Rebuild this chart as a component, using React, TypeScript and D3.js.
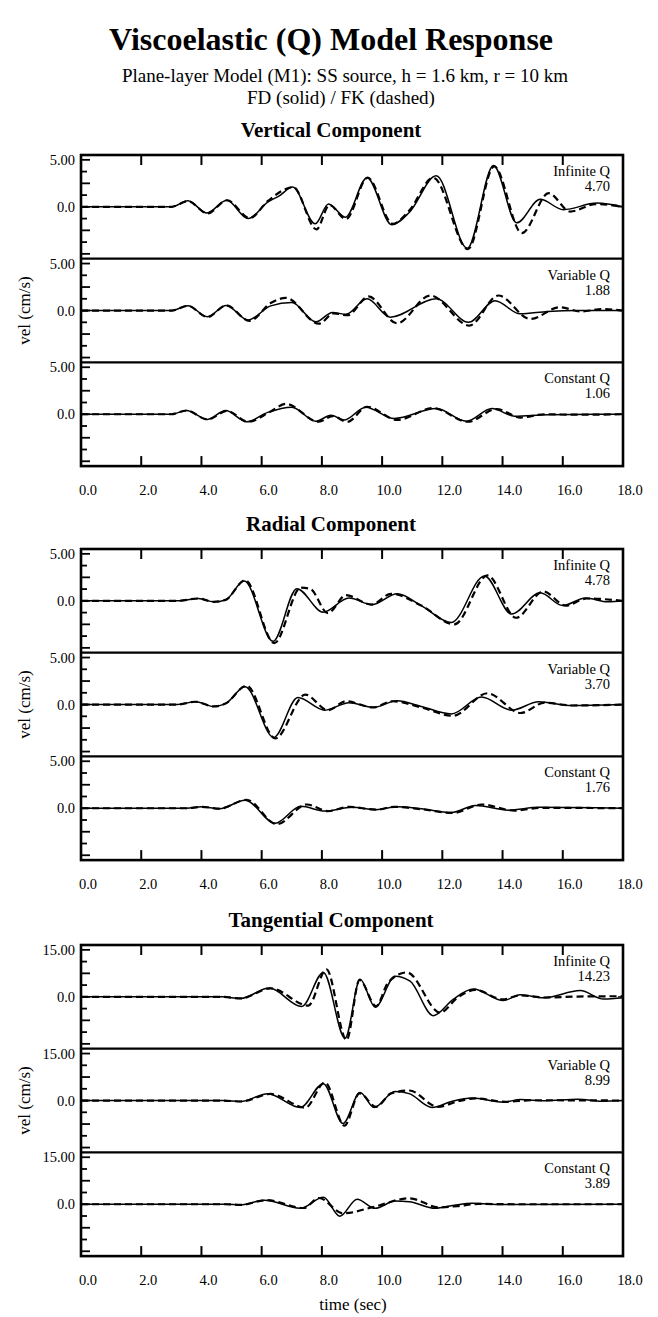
import React from "react";
import * as d3 from "d3";

// ---- labels ----
const COMPONENTS = ["Vertical Component", "Radial Component", "Tangential Component"];
const Q_MODELS = ["Infinite Q", "Variable Q", "Constant Q"];
const PEAKS = [
  ["4.70", "1.88", "1.06"],
  ["4.78", "3.70", "1.76"],
  ["14.23", "8.99", "3.89"],
];
const AMP = [5, 5, 15];
const AMP_LABEL = ["5.00", "5.00", "15.00"];
const X_TICKS = [0, 2, 4, 6, 8, 10, 12, 14, 16, 18];

// ---- traces [time (s), vel (cm/s)] : FD solid / FK dashed ----
const vertInfFD = [[0,0],[3.0,0],[3.55,0.65],[4.18,-0.65],[4.84,0.7],[5.55,-1.25],[6.2,0.5],[6.6,1.2],[7.03,2.1],[7.78,-1.8],[8.22,0.3],[8.78,-1.1],[9.5,3.1],[10.32,-1.9],[10.9,-0.6],[11.8,3.3],[12.83,-4.4],[13.7,4.4],[14.47,-1.7],[15.25,0.8],[16.02,-0.3],[17.13,0.4],[18,0]];
const vertInfFK = [[0,0],[3.0,0],[3.55,0.6],[4.2,-0.7],[4.85,0.7],[5.6,-1.2],[6.2,0.6],[6.8,1.9],[7.05,2.1],[7.82,-2.4],[8.25,0.2],[8.8,-1.3],[9.52,3.1],[10.35,-1.8],[10.9,-0.4],[11.7,3.1],[12.85,-4.5],[13.72,4.3],[14.64,-2.8],[15.53,1.45],[16.25,-0.5],[17.1,0.3],[18,0]];
const vertVarFD = [[0,0],[3.0,0],[3.55,0.5],[4.2,-0.65],[4.82,0.55],[5.55,-1.0],[6.3,0.5],[7.0,0.85],[7.8,-1.2],[8.35,-0.2],[8.8,-0.4],[9.5,1.25],[10.27,-0.7],[11.8,1.25],[12.87,-1.25],[13.75,1.05],[14.58,-0.35],[15.5,-0.1],[16.5,0],[18,0]];
const vertVarFK = [[0,0],[3.0,0],[3.55,0.5],[4.2,-0.7],[4.82,0.55],[5.6,-1.1],[6.3,0.8],[6.8,1.35],[7.9,-1.4],[8.4,-0.3],[8.85,-0.5],[9.55,1.5],[10.49,-1.35],[11.6,1.6],[12.9,-1.6],[13.86,1.6],[14.92,-0.9],[15.9,0.35],[16.6,-0.1],[17.3,0.15],[18,0]];
const vertConFD = [[0,0],[3.0,0],[3.5,0.4],[4.2,-0.55],[4.8,0.4],[5.5,-0.8],[6.2,0.2],[7.0,0.75],[7.8,-0.75],[8.3,-0.1],[8.75,-0.6],[9.45,0.75],[10.4,-0.45],[11.8,0.6],[12.8,-0.75],[13.65,0.6],[14.4,-0.2],[15.5,-0.05],[18,0]];
const vertConFK = [[0,0],[3.0,0],[3.5,0.4],[4.2,-0.55],[4.85,0.35],[5.55,-0.8],[6.3,0.3],[6.8,1.1],[7.9,-0.8],[8.35,-0.2],[8.85,-0.8],[9.5,0.8],[10.5,-0.6],[11.7,0.65],[12.85,-0.8],[13.8,0.55],[14.6,-0.35],[15.4,0],[16.5,-0.05],[18,0]];

const radInfFD = [[0,0],[3.2,0],[3.9,0.25],[4.4,-0.1],[4.8,0.1],[5.42,2.1],[6.38,-4.3],[7.17,1.3],[8.04,-1.2],[8.9,0.3],[9.67,-0.4],[10.5,0.75],[11.3,-0.5],[12.3,-2.3],[13.4,2.65],[14.3,-1.4],[15.25,0.85],[16.0,-0.5],[16.75,0.3],[17.5,-0.1],[18,0]];
const radInfFK = [[0,0],[3.2,0],[3.9,0.25],[4.4,-0.1],[4.8,0.1],[5.45,2.2],[6.42,-4.5],[7.3,1.4],[7.6,1.3],[8.2,-1.3],[8.8,0.6],[9.65,-0.4],[10.3,0.75],[11.3,-0.5],[12.4,-2.5],[13.5,2.7],[14.45,-1.8],[15.35,1.0],[16.1,-0.5],[16.8,0.25],[18,0]];
const radVarFD = [[0,0],[3.2,0],[3.8,0.3],[4.4,-0.2],[4.8,0.1],[5.45,1.9],[6.4,-3.5],[7.2,0.75],[8.1,-0.6],[8.9,0.2],[9.7,-0.3],[10.5,0.4],[11.3,-0.2],[12.3,-1.0],[13.3,0.8],[14.3,-0.6],[15.2,0.3],[16.2,-0.1],[18,0]];
const radVarFK = [[0,0],[3.2,0],[3.8,0.3],[4.4,-0.2],[4.8,0.1],[5.5,2.0],[6.45,-3.6],[7.45,1.05],[8.2,-0.6],[8.8,0.35],[9.7,-0.3],[10.35,0.35],[11.3,-0.3],[12.35,-1.2],[13.5,1.2],[14.6,-0.9],[15.4,0.2],[16.3,-0.1],[18,0]];
const radConFD = [[0,0],[3.5,0],[4.0,0.15],[4.6,-0.05],[5.45,0.85],[6.45,-1.6],[7.3,0.2],[8.1,-0.3],[9.0,0.1],[9.8,-0.15],[10.5,0.15],[11.3,-0.05],[12.3,-0.45],[13.1,0.3],[14.2,-0.2],[15.2,0.1],[18,0]];
const radConFK = [[0,0],[3.5,0],[4.0,0.15],[4.6,-0.05],[5.5,0.9],[6.5,-1.7],[7.5,0.4],[8.2,-0.3],[8.9,0.15],[9.8,-0.15],[10.4,0.15],[11.3,-0.1],[12.35,-0.5],[13.3,0.4],[14.4,-0.25],[15.3,0.05],[18,0]];

const tanInfFD = [[0,0],[4.7,0],[5.3,-0.5],[6.25,2.8],[7.33,-3.1],[8.05,7.8],[8.77,-13.2],[9.27,5.6],[9.77,-3.3],[10.43,6.6],[10.93,5.0],[11.7,-6.0],[12.37,-0.7],[13.03,2.5],[14.03,-1.2],[14.58,0.7],[15.36,-0.3],[16.58,2.0],[17.35,-0.7],[18,-0.3]];
const tanInfFK = [[0,0],[4.7,0],[5.3,-0.5],[6.3,2.7],[7.55,-2.8],[8.15,8.8],[8.82,-13.8],[9.25,5.4],[9.8,-3.0],[10.2,4.6],[10.82,7.8],[11.93,-5.0],[12.5,-0.3],[13.1,2.2],[14.0,-0.8],[14.6,0.5],[15.4,-0.2],[16.5,0.1],[18,0.2]];
const tanVarFD = [[0,0],[4.7,0],[5.3,-0.3],[6.2,2.2],[7.28,-2.2],[8.05,5.4],[8.7,-7.3],[9.27,2.6],[9.73,-2.2],[10.43,2.9],[10.9,2.2],[11.66,-2.2],[12.3,-0.3],[13.0,0.8],[14.0,-0.5],[14.6,0.3],[15.4,-0.1],[16.5,0.4],[17.3,-0.2],[18,0]];
const tanVarFK = [[0,0],[4.7,0],[5.3,-0.3],[6.3,2.1],[7.45,-2.3],[8.1,5.8],[8.75,-8.0],[9.25,2.3],[9.8,-2.0],[10.3,2.3],[10.9,3.2],[11.85,-2.0],[12.5,-0.3],[13.1,0.7],[14.1,-0.4],[15,0.1],[18,0]];
const tanConFD = [[0,0],[4.8,0],[5.3,-0.2],[6.1,1.3],[7.28,-1.3],[8.05,2.2],[8.6,-3.8],[9.17,1.6],[9.77,-1.3],[10.43,1.0],[10.9,0.8],[11.76,-1.3],[12.4,-0.3],[13.0,0.3],[14,-0.1],[18,0]];
const tanConFK = [[0,0],[4.8,0],[5.3,-0.2],[6.15,1.3],[7.4,-1.2],[7.9,2.0],[8.7,-2.9],[9.7,-0.9],[10.9,1.9],[11.9,-1.0],[12.5,-0.6],[13.2,0.1],[14.5,0],[18,0]];

const TRACES = [
  [[vertInfFD, vertInfFK], [vertVarFD, vertVarFK], [vertConFD, vertConFK]],
  [[radInfFD, radInfFK], [radVarFD, radVarFK], [radConFD, radConFK]],
  [[tanInfFD, tanInfFK], [tanVarFD, tanVarFK], [tanConFD, tanConFK]],
];

const FONT = "'Liberation Serif', 'Times New Roman', Times, serif";
const BLOCK_TOP = [155, 549, 945];
const PH = 103.7;
const LEFT = 81, RIGHT = 623;

function Block({ idx }: { idx: number }) {
  const top = BLOCK_TOP[idx];
  const bottom = top + 3 * PH;
  const amp = AMP[idx];
  const x = d3.scaleLinear().domain([0, 18]).range([LEFT, RIGHT]);

  return (
    <g>
      <text x={331} y={top - 18} textAnchor="middle" fontSize={21} fontWeight="bold">
        {COMPONENTS[idx]}
      </text>
      {[0, 1, 2].map((p) => {
        const y = d3.scaleLinear().domain([-amp * 1.103, amp * 1.103]).range([top + (p + 1) * PH, top + p * PH]);
        const line = d3.line<number[]>().x((d) => x(d[0])).y((d) => y(d[1])).curve(d3.curveMonotoneX);
        const yt = [-1, -0.75, -0.5, -0.25, 0, 0.25, 0.5, 0.75, 1].map((f) => f * amp);
        const [fd, fk] = TRACES[idx][p];
        return (
          <g key={p}>
            {yt.map((v, i) => (
              <line key={i} x1={LEFT} x2={LEFT + (i % 2 === 0 ? 9 : 6)} y1={y(v)} y2={y(v)} stroke="#000" strokeWidth={1.8} />
            ))}
            <line x1={RIGHT - 5} x2={RIGHT} y1={y(0)} y2={y(0)} stroke="#000" strokeWidth={1.2} />
            <text x={75} y={y(amp)} dy="0.35em" textAnchor="end" fontSize={14.5}>{AMP_LABEL[idx]}</text>
            <text x={75} y={y(0)} dy="0.35em" textAnchor="end" fontSize={14.5}>0.0</text>
            <path d={line(fk) || ""} fill="none" stroke="#000" strokeWidth={2.2} strokeDasharray="7,4" />
            <path d={line(fd) || ""} fill="none" stroke="#000" strokeWidth={1.5} />
            <text x={610} y={top + p * PH + 21} textAnchor="end" fontSize={14.5}>{Q_MODELS[p]}</text>
            <text x={610} y={top + p * PH + 36} textAnchor="end" fontSize={14.5}>{PEAKS[idx][p]}</text>
            {p > 0 && <line x1={LEFT} x2={RIGHT} y1={top + p * PH} y2={top + p * PH} stroke="#000" strokeWidth={2.2} />}
          </g>
        );
      })}
      <rect x={LEFT} y={top} width={RIGHT - LEFT} height={bottom - top} fill="none" stroke="#000" strokeWidth={2.6} />
      {X_TICKS.slice(1, -1).map((t) => (
        <g key={t}>
          <line x1={x(t)} x2={x(t)} y1={top} y2={top + 10} stroke="#000" strokeWidth={2} />
          <line x1={x(t)} x2={x(t)} y1={bottom - 10} y2={bottom} stroke="#000" strokeWidth={2} />
        </g>
      ))}
      {X_TICKS.map((t) => (
        <text key={t} x={x(t) + 7} y={bottom + 24} dy="0.35em" textAnchor="middle" fontSize={14.5}>
          {t.toFixed(1)}
        </text>
      ))}
      <text transform={`translate(30,${(top + bottom) / 2}) rotate(-90)`} textAnchor="middle" fontSize={17}>
        vel (cm/s)
      </text>
    </g>
  );
}

export default function App() {
  return (
    <svg width={658} height={1317} style={{ position: "absolute", left: 0, top: 0, background: "#fff" }} fontFamily={FONT}>
      <rect width={658} height={1317} fill="#fff" />
      <text x={331} y={50} textAnchor="middle" fontSize={32} fontWeight="bold">
        Viscoelastic (Q) Model Response
      </text>
      <text x={345} y={82} textAnchor="middle" fontSize={19}>
        Plane-layer Model (M1): SS source, h = 1.6 km, r = 10 km
      </text>
      <text x={341} y={104} textAnchor="middle" fontSize={19}>
        FD (solid) / FK (dashed)
      </text>
      {[0, 1, 2].map((i) => (
        <Block key={i} idx={i} />
      ))}
      <text x={353} y={1310} textAnchor="middle" fontSize={17}>
        time (sec)
      </text>
    </svg>
  );
}
